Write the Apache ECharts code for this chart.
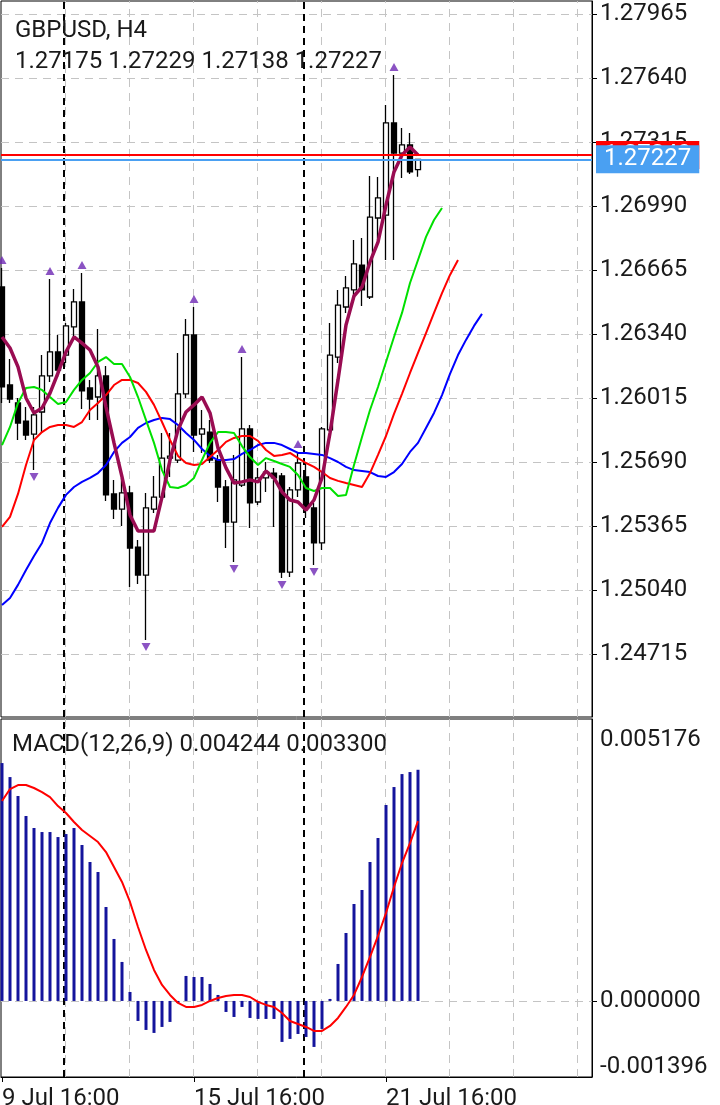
<!DOCTYPE html>
<html><head><meta charset="utf-8">
<script src="https://cdn.jsdelivr.net/npm/echarts@6/dist/echarts.min.js"></script>
<style>html,body{margin:0;padding:0;background:#fff}#c{width:720px;height:1105px}</style>
</head><body><div id="c"></div>
<script>
const chartTitle = 'GBPUSD, H4';
// H4 bars (index 0..52)
const opens  = [1.26579,1.26081,1.25990,1.25898,1.25832,1.25944,1.26127,1.26249,1.26233,1.26376,1.26503,1.26066,1.26020,1.26127,1.25528,1.25451,1.25533,1.25258,1.25116,1.25451,1.25512,1.25710,1.25700,1.26036,1.26335,1.25832,1.25842,1.25700,1.25563,1.25385,1.25573,1.25858,1.25487,1.25609,1.25634,1.25619,1.25131,1.25548,1.25614,1.25457,1.25279,1.25853,1.26223,1.26477,1.26564,1.26690,1.26528,1.26929,1.26944,1.27412,1.27259,1.27300,1.27175];
const highs  = [1.26675,1.26213,1.26015,1.25969,1.25969,1.26233,1.26619,1.26335,1.26396,1.26569,1.26650,1.26107,1.26365,1.26178,1.25599,1.25609,1.25568,1.25294,1.25533,1.25619,1.25837,1.25837,1.26244,1.26416,1.26477,1.25954,1.25903,1.25726,1.25599,1.25726,1.26223,1.25878,1.25660,1.25690,1.25660,1.25634,1.25563,1.25741,1.25685,1.25482,1.25868,1.26396,1.26564,1.26635,1.26817,1.26827,1.27142,1.27137,1.27503,1.27655,1.27386,1.27361,1.27229];
const lows   = [1.25990,1.25990,1.25802,1.25802,1.25649,1.25837,1.26096,1.26122,1.26193,1.26325,1.25959,1.25903,1.25903,1.25492,1.25401,1.25365,1.25055,1.25071,1.24786,1.25431,1.25497,1.25614,1.25685,1.26015,1.25741,1.25736,1.25685,1.25487,1.25253,1.25182,1.25563,1.25355,1.25472,1.25538,1.25360,1.25101,1.25106,1.25512,1.25406,1.25167,1.25243,1.25842,1.26193,1.26447,1.26513,1.26482,1.26518,1.26817,1.26716,1.26716,1.27132,1.27153,1.27138];
const closes = [1.26071,1.26010,1.25888,1.25827,1.25929,1.26127,1.26249,1.26157,1.26381,1.26503,1.26051,1.26010,1.26127,1.25523,1.25451,1.25533,1.25253,1.25116,1.25457,1.25512,1.25710,1.25720,1.26036,1.26335,1.25827,1.25858,1.25700,1.25563,1.25385,1.25599,1.25858,1.25482,1.25609,1.25639,1.25609,1.25131,1.25548,1.25685,1.25457,1.25279,1.25858,1.26233,1.26487,1.26574,1.26696,1.26564,1.26934,1.27031,1.27412,1.27259,1.27300,1.27163,1.27227];

// Alligator lines (shifted forward) and thick MA
const jaw   = [1.24964,1.24999,1.25066,1.25142,1.25213,1.25279,1.25380,1.25457,1.25523,1.25563,1.25589,1.25609,1.25634,1.25675,1.25741,1.25787,1.25817,1.25863,1.25888,1.25903,1.25914,1.25908,1.25878,1.25837,1.25802,1.25756,1.25721,1.25700,1.25700,1.25705,1.25731,1.25751,1.25776,1.25787,1.25787,1.25776,1.25756,1.25736,1.25736,1.25731,1.25726,1.25710,1.25690,1.25665,1.25649,1.25644,1.25639,1.25619,1.25614,1.25639,1.25680,1.25741,1.25787,1.25863,1.25939,1.26030,1.26137,1.26233,1.26310,1.26381,1.26442];
const teeth = [1.25360,1.25411,1.25528,1.25675,1.25802,1.25842,1.25868,1.25878,1.25878,1.25868,1.25893,1.25954,1.25990,1.26030,1.26081,1.26107,1.26107,1.26091,1.26046,1.25980,1.25893,1.25802,1.25721,1.25685,1.25675,1.25680,1.25715,1.25751,1.25792,1.25812,1.25822,1.25822,1.25797,1.25751,1.25721,1.25726,1.25736,1.25710,1.25685,1.25665,1.25639,1.25609,1.25594,1.25583,1.25573,1.25563,1.25634,1.25726,1.25822,1.25934,1.26036,1.26142,1.26244,1.26345,1.26447,1.26548,1.26640,1.26716];
const lips  = [1.25776,1.25868,1.25990,1.26066,1.26071,1.26056,1.26020,1.25985,1.25995,1.26056,1.26107,1.26142,1.26198,1.26223,1.26188,1.26188,1.26122,1.26020,1.25903,1.25787,1.25649,1.25563,1.25558,1.25573,1.25609,1.25700,1.25787,1.25842,1.25842,1.25837,1.25771,1.25715,1.25675,1.25710,1.25695,1.25680,1.25665,1.25624,1.25558,1.25543,1.25558,1.25558,1.25517,1.25523,1.25675,1.25817,1.25954,1.26071,1.26198,1.26325,1.26447,1.26599,1.26716,1.26833,1.26919,1.26980];
const maLine = [1.26325,1.26269,1.26173,1.26015,1.25939,1.25964,1.26040,1.26142,1.26249,1.26325,1.26294,1.26259,1.26173,1.25969,1.25787,1.25614,1.25421,1.25340,1.25340,1.25340,1.25512,1.25700,1.25853,1.25944,1.25980,1.26020,1.25939,1.25761,1.25660,1.25583,1.25589,1.25599,1.25589,1.25644,1.25609,1.25538,1.25497,1.25487,1.25446,1.25497,1.25609,1.25837,1.26107,1.26386,1.26533,1.26579,1.26706,1.26807,1.26995,1.27163,1.27249,1.27290,1.27249];

const macdHist = [0.004367,0.004110,0.003762,0.003395,0.003175,0.003101,0.003101,0.003009,0.003064,0.003175,0.002863,0.002551,0.002367,0.001725,0.001138,0.000716,0.000165,-0.000367,-0.000532,-0.000587,-0.000477,-0.000385,-0.000037,0.000459,0.000440,0.000440,0.000312,0.000110,-0.000202,-0.000294,-0.000110,-0.000312,-0.000330,-0.000330,-0.000330,-0.000752,-0.000697,-0.000606,-0.000661,-0.000844,-0.000514,0.000037,0.000679,0.001248,0.001780,0.002037,0.002551,0.002991,0.003597,0.003927,0.004165,0.004202,0.004244];
const macdSignal = [0.003670,0.003890,0.003964,0.003964,0.003909,0.003835,0.003743,0.003578,0.003450,0.003285,0.003138,0.003028,0.002918,0.002734,0.002459,0.002184,0.001817,0.001358,0.000936,0.000569,0.000294,0.000110,-0.000037,-0.000110,-0.000110,-0.000073,0.000000,0.000055,0.000092,0.000110,0.000110,0.000073,-0.000018,-0.000073,-0.000110,-0.000220,-0.000367,-0.000422,-0.000477,-0.000551,-0.000551,-0.000459,-0.000312,-0.000110,0.000110,0.000440,0.000807,0.001193,0.001615,0.002092,0.002532,0.002899,0.003300];

const fractalUpIdx = [0,6,10,24,30,37,49];
const fractalDownIdx = [4,18,29,35,39];

const priceTicks = [1.24715,1.25040,1.25365,1.25690,1.26015,1.26340,1.26665,1.26990,1.27315,1.27640,1.27965];
const macdTicks = [-0.001396,0,0.005176];
const timeTickIdx = [0,24,48];
const timeTickLabels = ['9 Jul 16:00','15 Jul 16:00','21 Jul 16:00'];
const separatorIdx = [7.75,37.75];
const vGridIdx = [7.875,15.875,23.875,31.875,39.875,47.875,55.875,63.875,71.875];
const bidPrice = 1.27227, askPrice = 1.27249;

const X_MIN = -0.125, X_MAX = 73.75;
const P_MIN = 1.243951, P_MAX = 1.280310;
const M_MIN = -0.001396, M_MAX = 0.005176;
const FONT = 'Roboto';
const FS = 24;

const pts = arr => arr.map((v,i)=>[i,v]);
const gridLineStyle = {color:'#c4c4c4', width:1, type:[8,6]};
const sepStyle = {color:'#000', width:2, type:[7,5]};

const chart = echarts.init(document.getElementById('c'), null, {renderer:'canvas'});
const last = closes.length-1;

function refLines(xi, yi, data, style, z) {
  return {type:'line', xAxisIndex:xi, yAxisIndex:yi, data:[], silent:true,
    markLine:{silent:true, symbol:'none', z:z, precision:8, animation:false, label:{show:false}, lineStyle:style,
      data:data.map(d=>Object.assign({lineStyle:style}, d))}};
}

const option = {
  animation:false,
  backgroundColor:'#fff',
  textStyle:{fontFamily:FONT},
  title:[
    {text:chartTitle, left:10, top:14, textStyle:{fontSize:FS, fontWeight:'normal', color:'#1a1a1a', fontFamily:FONT}},
    {text:[opens[last],highs[last],lows[last],closes[last]].map(v=>v.toFixed(5)).join(' '), left:10, top:45, textStyle:{fontSize:FS, fontWeight:'normal', color:'#1a1a1a', fontFamily:FONT}},
    {text:'MACD(12,26,9) '+macdHist[last].toFixed(6)+' '+macdSignal[last].toFixed(6), left:7, top:728, textStyle:{fontSize:FS, fontWeight:'normal', color:'#1a1a1a', fontFamily:FONT}}
  ],
  grid:[
    {left:1, top:1, width:591, height:716, show:true, borderColor:'#000', borderWidth:1, backgroundColor:'transparent', outerBoundsMode:'none', containLabel:false},
    {left:1, top:719, width:591, height:358, show:true, borderColor:'#000', borderWidth:1, backgroundColor:'transparent', outerBoundsMode:'none', containLabel:false}
  ],
  xAxis:[
    {type:'value', gridIndex:0, min:X_MIN, max:X_MAX, axisLine:{show:false, onZero:false}, axisTick:{show:false}, axisLabel:{show:false}, splitLine:{show:false}},
    {type:'value', gridIndex:1, min:X_MIN, max:X_MAX, position:'bottom', axisLine:{show:true, onZero:false, lineStyle:{color:'#000'}},
      axisTick:{show:true, customValues:timeTickIdx, length:5, lineStyle:{color:'#000'}},
      axisLabel:{show:true, customValues:timeTickIdx, align:'left', margin:10, fontSize:FS, color:'#1a1a1a', fontFamily:FONT,
        formatter:v=>{const k=timeTickIdx.indexOf(Math.round(v)); return k>=0?timeTickLabels[k]:'';}},
      splitLine:{show:false}}
  ],
  yAxis:[
    {type:'value', gridIndex:0, position:'right', min:P_MIN, max:P_MAX, scale:true,
      axisLine:{show:true, onZero:false, lineStyle:{color:'#000'}},
      axisTick:{show:true, customValues:priceTicks, length:5, lineStyle:{color:'#000'}},
      axisLabel:{show:true, customValues:priceTicks, margin:8, fontSize:FS, color:'#1a1a1a', fontFamily:FONT, formatter:v=>v.toFixed(5)},
      splitLine:{show:false}},
    {type:'value', gridIndex:1, position:'right', min:M_MIN, max:M_MAX,
      axisLine:{show:true, onZero:false, lineStyle:{color:'#000'}},
      axisTick:{show:true, customValues:[0], length:5, lineStyle:{color:'#000'}},
      axisLabel:{show:true, customValues:macdTicks, margin:8, fontSize:FS, color:'#1a1a1a', fontFamily:FONT,
        formatter:v=>{ if (v>=M_MAX-1e-9) return '{t|'+v.toFixed(6)+'}'; if (v<=M_MIN+1e-9) return '{b|'+v.toFixed(6)+'}'; return v.toFixed(6);},
        rich:{t:{fontSize:FS, color:'#1a1a1a', fontFamily:FONT, padding:[42,0,0,0]}, b:{fontSize:FS, color:'#1a1a1a', fontFamily:FONT, padding:[0,0,20,0]}}},
      splitLine:{show:false}}
  ],
  series:[
    refLines(0,0, priceTicks.map(v=>({yAxis:v})).concat(vGridIdx.map(v=>({xAxis:v}))), gridLineStyle, 1),
    refLines(0,0, separatorIdx.map(v=>({xAxis:v})), sepStyle, 1),
    refLines(1,1, [{yAxis:0}].concat(vGridIdx.map(v=>({xAxis:v}))), gridLineStyle, 1),
    refLines(1,1, separatorIdx.map(v=>({xAxis:v})), sepStyle, 1),
    // candles
    {type:'candlestick', xAxisIndex:0, yAxisIndex:0, z:3, barWidth:5,
      data: opens.map((o,i)=>[i,o,closes[i],lows[i],highs[i]]),
      encode:{x:0, y:[1,2,3,4]},
      itemStyle:{color:'#ffffff', color0:'#000000', borderColor:'#000000', borderColor0:'#000000', borderWidth:1.3}},
    // alligator + MA
    {type:'line', xAxisIndex:0, yAxisIndex:0, z:4, data:pts(jaw), symbol:'none', lineStyle:{color:'#0000ff', width:2}},
    {type:'line', xAxisIndex:0, yAxisIndex:0, z:4, data:pts(teeth), symbol:'none', lineStyle:{color:'#ff0000', width:2}},
    {type:'line', xAxisIndex:0, yAxisIndex:0, z:4, data:pts(lips), symbol:'none', lineStyle:{color:'#00e000', width:2}},
    {type:'line', xAxisIndex:0, yAxisIndex:0, z:5, data:pts(maLine), symbol:'none', lineStyle:{color:'#990c52', width:3.5}},
    // fractals
    {type:'scatter', xAxisIndex:0, yAxisIndex:0, z:6, symbol:'triangle', symbolSize:[9,8], symbolOffset:[0,-8],
      itemStyle:{color:'#6e28b4'}, data: fractalUpIdx.map(i=>[i,highs[i]])},
    {type:'scatter', xAxisIndex:0, yAxisIndex:0, z:6, symbol:'triangle', symbolRotate:180, symbolSize:[9,8], symbolOffset:[0,7],
      itemStyle:{color:'#6e28b4'}, data: fractalDownIdx.map(i=>[i,lows[i]])},
    // ask / bid lines
    {type:'line', xAxisIndex:0, yAxisIndex:0, data:[], silent:true,
      markLine:{silent:true, symbol:'none', z:7, precision:8, animation:false,
        data:[{yAxis:askPrice, lineStyle:{color:'#ff0000', width:2, type:'solid'},
          label:{show:true, position:'end', distance:4, formatter:askPrice.toFixed(5), backgroundColor:'#ff0000', color:'#fff', fontSize:FS, fontFamily:FONT, padding:[2,8], lineHeight:24}}]}},
    {type:'line', xAxisIndex:0, yAxisIndex:0, data:[], silent:true,
      markLine:{silent:true, symbol:'none', z:8, precision:8, animation:false,
        data:[{yAxis:bidPrice, lineStyle:{color:'#4aa0f2', width:2, type:'solid'},
          label:{show:true, position:'end', distance:4, formatter:bidPrice.toFixed(5), backgroundColor:'#4aa0f2', color:'#fff', fontSize:FS, fontFamily:FONT, padding:[2,8], lineHeight:24}}]}},
    // MACD
    {type:'bar', xAxisIndex:1, yAxisIndex:1, z:3, barWidth:3, data:pts(macdHist), itemStyle:{color:'#14149c'}},
    {type:'line', xAxisIndex:1, yAxisIndex:1, z:4, data:pts(macdSignal), symbol:'none', lineStyle:{color:'#ff0000', width:2}}
  ]
};
chart.setOption(option);
</script>
</body></html>
